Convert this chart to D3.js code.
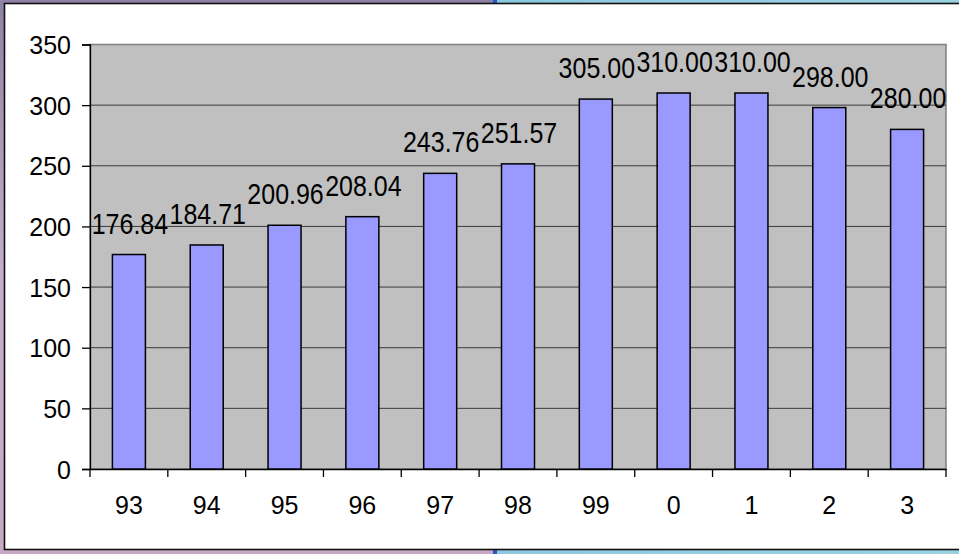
<!DOCTYPE html>
<html>
<head>
<meta charset="utf-8">
<script src="https://cdn.jsdelivr.net/npm/d3@7"></script>
<style>
  html, body { margin: 0; padding: 0; overflow: hidden; }
  svg { display: block; }
</style>
</head>
<body>
<div id="chart"></div>
<script>
const years = ["93", "94", "95", "96", "97", "98", "99", "0", "1", "2", "3"];
const values = [176.84, 184.71, 200.96, 208.04, 243.76, 251.57, 305.00, 310.00, 310.00, 298.00, 280.00];
const yTicks = [0, 50, 100, 150, 200, 250, 300, 350];

const createChart = () => {
    const width = 959;
    const height = 554;
    const plot = { left: 90, right: 946, top: 44.5, bottom: 469 };
    const font = "'Liberation Sans', Arial, sans-serif";

    const svg = d3.select("#chart")
        .append("svg")
        .attr("width", width)
        .attr("height", height);

    // textured backdrop behind the chart box
    const defs = svg.append("defs");
    const left = defs.append("linearGradient").attr("id", "bgLeft")
        .attr("x1", 0).attr("y1", 0).attr("x2", 0).attr("y2", 1);
    left.append("stop").attr("offset", "0%").attr("stop-color", "#8e82a4");
    left.append("stop").attr("offset", "50%").attr("stop-color", "#c4aecb");
    left.append("stop").attr("offset", "100%").attr("stop-color", "#c9a9c4");
    const right = defs.append("linearGradient").attr("id", "bgRight")
        .attr("x1", 0).attr("y1", 0).attr("x2", 1).attr("y2", 0);
    right.append("stop").attr("offset", "0%").attr("stop-color", "#8cc8de");
    right.append("stop").attr("offset", "100%").attr("stop-color", "#9ad2e2");

    svg.append("rect").attr("width", 494).attr("height", height).attr("fill", "url(#bgLeft)");
    svg.append("rect").attr("x", 497).attr("width", width - 497).attr("height", height).attr("fill", "url(#bgRight)");
    svg.append("rect").attr("x", 493).attr("width", 4).attr("height", height).attr("fill", "#2f55c8");

    svg.append("rect")
        .attr("x", 4.5).attr("y", 3.5)
        .attr("width", 965).attr("height", 546)
        .attr("fill", "#fff")
        .attr("stroke", "#111")
        .attr("stroke-width", 1.6);

    const x = d3.scaleBand()
        .domain(years)
        .range([plot.left, plot.right]);

    const y = d3.scaleLinear()
        .domain([0, 350])
        .range([plot.bottom, plot.top]);

    // plot area
    svg.append("rect")
        .attr("x", plot.left).attr("y", plot.top)
        .attr("width", plot.right - plot.left)
        .attr("height", plot.bottom - plot.top)
        .attr("fill", "#c0c0c0")
        .attr("stroke", "#808080")
        .attr("stroke-width", 1.5);

    svg.append("g")
        .selectAll("line")
        .data(yTicks.filter(d => d > 0 && d < 350))
        .join("line")
        .attr("x1", plot.left).attr("x2", plot.right)
        .attr("y1", d => y(d)).attr("y2", d => y(d))
        .style("stroke", "#3a3a3a")
        .style("stroke-width", 1);

    // y axis
    const yAxis = svg.append("g")
        .attr("transform", `translate(${plot.left},0)`)
        .call(d3.axisLeft(y).tickValues(yTicks).tickSize(8).tickPadding(11));
    yAxis.select(".domain").attr("stroke", "#000").attr("stroke-width", 1.3);
    yAxis.selectAll(".tick line").attr("stroke", "#000").attr("stroke-width", 1.3);
    yAxis.selectAll(".tick text")
        .attr("font-family", font).attr("font-size", 25).attr("fill", "#000")
        .attr("dy", "0.36em");

    // x axis, ticks between categories
    const xAxis = svg.append("g")
        .attr("transform", `translate(0,${plot.bottom})`)
        .call(d3.axisBottom(x).tickSize(0).tickPadding(27));
    xAxis.select(".domain").attr("stroke", "#000").attr("stroke-width", 1.3);
    xAxis.selectAll(".tick text")
        .attr("font-family", font).attr("font-size", 25).attr("fill", "#000");
    svg.append("g")
        .selectAll("line")
        .data(years.concat(["end"]))
        .join("line")
        .attr("x1", (d, i) => plot.left + i * x.step())
        .attr("x2", (d, i) => plot.left + i * x.step())
        .attr("y1", plot.bottom).attr("y2", plot.bottom + 8)
        .style("stroke", "#000").style("stroke-width", 1.3);

    // bars
    const barWidth = 33;
    svg.append("g")
        .selectAll("rect")
        .data(values)
        .join("rect")
        .attr("x", (d, i) => x(years[i]) + x.bandwidth() / 2 - barWidth / 2)
        .attr("y", d => y(d))
        .attr("width", barWidth)
        .attr("height", d => plot.bottom - y(d))
        .style("fill", "#9999ff")
        .style("stroke", "#000")
        .style("stroke-width", 1.5);

    // value labels (glyphs slightly taller than wide, as in the original)
    svg.append("g")
        .selectAll("text")
        .data(values)
        .join("text")
        .attr("transform", (d, i) =>
            `translate(${x(years[i]) + x.bandwidth() / 2 + 1},${y(d) - 21}) scale(1,1.2)`)
        .attr("text-anchor", "middle")
        .attr("font-family", font)
        .attr("font-size", 25)
        .attr("fill", "#000")
        .text(d => d.toFixed(2));
};

document.addEventListener("DOMContentLoaded", createChart);
</script>
</body>
</html>
